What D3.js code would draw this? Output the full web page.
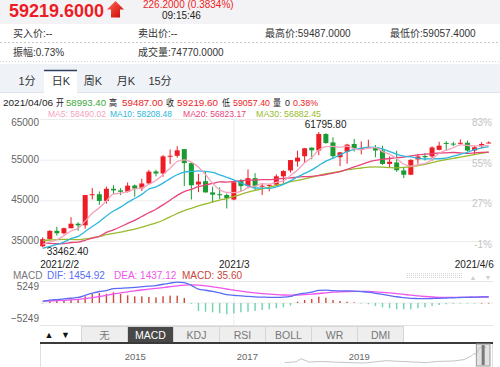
<!DOCTYPE html>
<html><head><meta charset="utf-8">
<script src="https://cdn.jsdelivr.net/npm/d3@7/dist/d3.min.js"></script>
<style>
body{margin:0;background:#fff;}
svg{display:block;font-family:"Liberation Sans",Arial,"Noto Sans CJK SC",sans-serif;}
</style></head><body>
<svg id="c" width="500" height="367"></svg>
<script>
// ---------------- DATA ----------------
const dates = "2/2 2/3 2/4 2/5 2/6 2/7 2/8 2/9 2/10 2/11 2/12 2/13 2/14 2/15 2/16 2/17 2/18 2/19 2/20 2/21 2/22 2/23 2/24 2/25 2/26 2/27 2/28 3/1 3/2 3/3 3/4 3/5 3/6 3/7 3/8 3/9 3/10 3/11 3/12 3/13 3/14 3/15 3/16 3/17 3/18 3/19 3/20 3/21 3/22 3/23 3/24 3/25 3/26 3/27 3/28 3/29 3/30 3/31 4/1 4/2 4/3 4/4 4/5 4/6".split(" ");
const open = [33700,35450,37500,36900,38150,39250,38850,46250,46500,44850,47850,47450,47100,48650,47950,49150,52100,51600,55800,55950,57600,54150,48900,49700,46950,46500,46300,45200,49800,48500,50450,48450,48600,48850,50900,52350,54550,55850,57950,57250,61300,59250,55600,56950,58850,57700,57900,57900,57250,53950,54300,52350,51300,55050,55900,55800,57400,59120,58950,58900,59150,57250,58300,58993.4];
const close = [35450,37500,36900,38150,39250,38850,46300,46500,44850,47850,47450,47100,48600,47900,49150,52050,51600,55800,55950,57300,54150,48700,49600,46950,46400,46300,45500,49450,48500,50450,48450,48600,48800,50900,52200,54900,55500,57800,57300,61300,59100,55850,56800,58700,57800,57900,58050,57250,53950,54500,52400,51300,54950,55800,55600,58000,58450,58870,58750,59150,57250,58050,58850,59219.6];
const high = [35900,37650,38500,38300,40850,39600,46300,48000,47200,48400,48700,48000,49400,48900,50300,52500,52500,56150,57500,58300,57600,54200,51500,52000,48400,48200,46700,49700,50200,52600,51700,49300,49100,51400,52400,54900,57200,57900,58000,61795.8,61500,60500,56900,58900,60100,59500,59900,58600,58400,55800,57200,53200,55100,56400,56600,58300,59400,59560,59400,60000,59700,58400,59300,59487];
const low = [33462.4,35300,36300,36600,38100,37500,38000,45200,43900,44200,46500,46300,46900,45900,47300,48900,50900,50800,53900,55500,48500,45200,47000,46900,44400,45300,43000,45000,47100,48100,47500,46300,47200,48500,49300,51800,53300,54300,55100,56100,58900,55200,53400,54000,57000,56300,57800,55600,53700,53100,52000,50450,51200,54000,54800,54700,57300,57230,58300,58600,57000,56400,57800,58993.4];
const ma5 = [34137,34774,35300,36307,37450,38130,39890,41810,43150,44870,46590,46750,47170,47780,48040,48960,49860,51300,52910,54540,54960,54380,53140,51340,49160,47590,46950,46920,47230,48040,48470,49090,48960,49440,49790,51080,52460,54260,55540,57360,58200,58270,58070,58350,57650,57410,57850,57940,56990,56330,55230,53880,53420,53790,54010,55130,56560,57340,57930,58640,58490,58410,58410,58490.02];
const ma10 = [33157,33680,34145,34714,35596,36134,37332,38555,39729,41160,42360,43320,44490,45465,46455,47775,48305,49235,50345,51290,51960,52120,52220,52125,51850,51275,50665,50030,49285,48600,48030,48020,47940,48335,48915,49775,50775,51610,52490,53575,54640,55365,56165,56945,57505,57805,58060,58005,57670,56990,56320,55865,55680,55390,55170,55180,55220,55380,55860,56325,56810,57485,57875,58208.48];
const ma20 = [34433,34433,34319,34375,34630,34700,35175,35705,36164,37116,37759,38500,39318,40090,41026,41955,42819,43895,45037,46225,47160,47720,48355,48795,49153,49525,49485,49633,49815,49945,49995,50070,50080,50230,50383,50525,50720,50820,50888,51088,51335,51693,52053,52640,53210,53790,54418,54808,55080,55283,55480,55615,55923,56168,56338,56493,56640,56693,56765,56658,56565,56675,56778,56823.17];
const ma30 = [35059,35243,35340,35384,35380,35315,35517,35788,36097,36561,36899,37163,37556,37947,38392,38906,39430,40108,40945,41757,42493,43041,43619,44102,44634,45062,45435,45941,46454,47018,47451,47821,48218,48643,49075,49610,49917,50294,50709,51157,51545,51837,52110,52470,52758,52953,53168,53216,53149,53056,52998,53085,53263,53558,53865,54255,54687,55001,55343,55633,55926,56241,56576,56882.45];
const dif = [382,680,823,966,1133,1336,1825,2338,2744,2947,3424,3507,3591,3710,3901,4008,4164,4474,4760,4975,4867,4223,3293,3042,2756,2398,1992,1825,1706,1563,1455,1408,1348,1348,1396,1587,2064,2338,2577,3018,3066,2935,2911,2899,2851,2720,2589,2314,2040,1778,1491,1300,1109,1062,1038,1074,1121,1181,1241,1312,1355,1396,1444,1454.92];
const dea = [429,477,549,644,740,859,1026,1265,1551,1837,2147,2434,2672,2911,3102,3293,3484,3674,3889,4104,4271,4319,4247,4080,3865,3627,3340,3054,2815,2601,2410,2243,2100,1980,1909,1885,1909,1980,2100,2267,2434,2577,2672,2744,2768,2768,2744,2672,2553,2410,2243,2052,1861,1694,1551,1432,1360,1336,1336,1360,1384,1408,1432,1437.12];
const macd = [-100,400,550,650,800,950,1600,2150,2400,2200,2550,2150,1850,1600,1600,1450,1350,1600,1750,1750,1200,-200,-1910,-2080,-2220,-2460,-2700,-2460,-2220,-2080,-1910,-1670,-1500,-1260,-1030,-600,310,720,950,1500,1260,720,480,310,160,-100,-300,-720,-1030,-1260,-1500,-1500,-1500,-1260,-1030,-720,-480,-300,-200,-100,-60,-30,20,35.6];
const priceTicks = [65000,55000,45000,35000];
const pctLabels = ["83%","55%","27%","-1%"];
const macdTicks = [5249,-5249];
const dateTicks = ["2/2","3/1","4/6"];
const dateTickLabels = ["2021/2/2","2021/3","2021/4/6"];
const navDates = ["2017-09-01","2017-11-15","2017-12-17","2018-01-20","2018-02-06","2018-05-01","2018-08-01","2018-11-20","2019-02-01","2019-06-26","2019-09-01","2019-12-15","2020-03-13","2020-06-01","2020-09-01","2020-11-15","2020-12-31","2021-01-15","2021-02-02","2021-02-21","2021-03-13","2021-04-06"];
const navValues = [4700,8000,19000,11500,7000,9000,6500,4500,3500,12000,10000,7200,5000,9500,10500,16000,29000,37000,35500,57000,61000,59200];
const navYears = ["2015","2017","2019"];
const tabsTop = ["1分","日K","周K","月K","15分"];
const tabsBottom = ["无","MACD","KDJ","RSI","BOLL","WR","DMI"];

// ---------------- COLORS ----------------
const UP = "#ee1c25", DOWN = "#1a9b32";
const C5 = "#f5a3bd", C10 = "#2cb7dc", C20 = "#e8457c", C30 = "#98bb2b";

const svg = d3.select("#c");

// ---------------- HEADER ----------------
svg.append("rect").attr("x",0).attr("y",0).attr("width",500).attr("height",24).attr("fill","#f3f3f5");
svg.append("text").attr("x",9).attr("y",16.5).attr("font-size",18).attr("font-weight","bold").attr("fill",UP).text("59219.6000");
const defs = svg.append("defs");
const g1 = defs.append("linearGradient").attr("id","ag").attr("x1",0).attr("y1",0).attr("x2",1).attr("y2",1);
g1.append("stop").attr("offset","0%").attr("stop-color","#ff6a5a");
g1.append("stop").attr("offset","100%").attr("stop-color","#cc0000");
svg.append("path").attr("d","M107,9.5 L115.5,1 L124,9.5 L120,9.5 L120,17.5 L111,17.5 L111,9.5 Z").attr("fill","url(#ag)");
svg.append("text").attr("x",143).attr("y",8).attr("font-size",10).attr("fill",UP).text("226.2000 (0.3834%)");
svg.append("text").attr("x",162).attr("y",19).attr("font-size",10).attr("fill","#222").text("09:15:46");

const rows = [["买入价:--",13,37],["卖出价:--",138,37],["最高价:59487.0000",265,37],["最低价:59057.4000",390,37],["振幅:0.73%",13,56],["成交量:74770.0000",138,56]];
svg.selectAll("text.row").data(rows).join("text").attr("class","row")
  .attr("x",d=>d[1]).attr("y",d=>d[2]).attr("font-size",10).attr("fill","#333").text(d=>d[0]);
svg.append("line").attr("x1",0).attr("x2",500).attr("y1",42.5).attr("y2",42.5).attr("stroke","#c8c8c8").attr("stroke-dasharray","2,2");
svg.append("line").attr("x1",0).attr("x2",500).attr("y1",61.5).attr("y2",61.5).attr("stroke","#d0d0d0").attr("stroke-dasharray","1,2");

// tab band
svg.append("rect").attr("x",0).attr("y",64).attr("width",500).attr("height",29).attr("fill","#eff3f8");
svg.append("line").attr("x1",0).attr("x2",500).attr("y1",92.5).attr("y2",92.5).attr("stroke","#dfe5ee");
svg.append("rect").attr("x",44).attr("y",70).attr("width",33).attr("height",23).attr("fill","#fff");
svg.append("line").attr("x1",44).attr("x2",77).attr("y1",70.5).attr("y2",70.5).attr("stroke","#2d3e5e").attr("stroke-width",1.5);
const tabX = [27,61,93,126,160];
svg.selectAll("text.tab").data(tabsTop).join("text").attr("class","tab")
  .attr("x",(d,i)=>tabX[i]).attr("y",85).attr("text-anchor","middle").attr("font-size",11).attr("fill","#333").text(d=>d);

// info line (text, x, width, colour)
const info = [["2021/04/06",3,50,"#222"],["开",56,8,"#222"],["58993.40",66,40,"#3aa83a"],["高",109,8,"#222"],["59487.00",122,41,UP],["收",166,8,"#222"],["59219.60",177,41,UP],["低",222,8,"#222"],["59057.40",233,37,UP],["量",273,8,"#222"],["0",285,5,"#222"],["0.38%",293,25,UP]];
svg.selectAll("text.info").data(info).join("text").attr("class","info")
  .attr("x",d=>d[1]).attr("y",105.5).attr("font-size",9.5).attr("fill",d=>d[3])
  .attr("textLength",d=>d[2]).attr("lengthAdjust","spacingAndGlyphs").text(d=>d[0]);
const leg = [["MA5: 58490.02",48,58,C5],["MA10: 58208.48",110,62,C10],["MA20: 56823.17",183,63,C20],["MA30: 56882.45",256,65,C30]];
svg.selectAll("text.leg").data(leg).join("text").attr("class","leg")
  .attr("x",d=>d[1]).attr("y",116.5).attr("font-size",9.5).attr("fill",d=>d[3])
  .attr("textLength",d=>d[2]).attr("lengthAdjust","spacingAndGlyphs").text(d=>d[0]);

// ---------------- SCALES ----------------
const x = d3.scalePoint().domain(dates).range([42.7,488.7]);
const y = d3.scaleLinear().domain([35000,65000]).range([241,119]);
const ym = d3.scaleLinear().domain([-5249,5249]).range([325,281]);

// grid + left axis
const ax = svg.append("g").attr("transform","translate(40,0)")
  .call(d3.axisLeft(y).tickValues(priceTicks).tickSize(-453).tickPadding(1).tickFormat(d3.format("d")));
ax.select(".domain").remove();
ax.selectAll(".tick line").attr("stroke","#ececec");
ax.selectAll(".tick text").attr("fill","#666").attr("font-size",10).attr("font-family","Liberation Sans, Arial, sans-serif")
  .attr("dy",(d,i)=> i===0 ? "0.65em" : "0.25em");
// right pct axis
const ar = svg.append("g").attr("transform","translate(493,0)")
  .call(d3.axisLeft(y).tickValues(priceTicks).tickSize(0).tickPadding(1).tickFormat((d,i)=>pctLabels[i]));
ar.select(".domain").remove();
ar.selectAll(".tick text").attr("fill","#c4c4c4").attr("font-size",10).attr("font-family","Liberation Sans, Arial, sans-serif").attr("dy","0.65em");

// vertical grid at month start
const vx = x("3/1");
svg.append("line").attr("x1",vx).attr("x2",vx).attr("y1",119).attr("y2",258).attr("stroke","#ececec");
svg.append("line").attr("x1",vx).attr("x2",vx).attr("y1",281).attr("y2",325).attr("stroke","#ececec");

// candles
const cg = svg.append("g");
dates.forEach((d,i)=>{
  const col = close[i] >= open[i] ? UP : DOWN;
  const cx = x(d);
  cg.append("line").attr("x1",cx).attr("x2",cx).attr("y1",y(high[i])).attr("y2",y(low[i])).attr("stroke",col).attr("stroke-width",1);
  const top = y(Math.max(open[i],close[i])), bot = y(Math.min(open[i],close[i]));
  cg.append("rect").attr("x",cx-2.5).attr("width",5).attr("y",top).attr("height",Math.max(1,bot-top)).attr("fill",col);
});

// MA lines
const lineFor = arr => d3.line().x((d,i)=>x(dates[i])).y(d=>y(d)).curve(d3.curveMonotoneX)(arr);
[[ma30,C30],[ma20,C20],[ma10,C10],[ma5,C5]].forEach(([arr,c])=>{
  svg.append("path").attr("d",lineFor(arr)).attr("fill","none").attr("stroke",c).attr("stroke-width",1.3);
});

// high / low annotations
const iH = high.indexOf(d3.max(high)), iL = low.indexOf(d3.min(low));
svg.append("text").attr("x",x(dates[iH])-14).attr("y",y(high[iH])-4).attr("font-size",10).attr("fill","#222").text(d3.format(".2f")(high[iH]));
svg.append("text").attr("x",x(dates[iL])+4).attr("y",y(low[iL])+8).attr("font-size",10).attr("fill","#222").text(d3.format(".2f")(low[iL]));

// date axis labels
const ab = svg.append("g").attr("transform","translate(0,258)")
  .call(d3.axisBottom(x).tickValues(dateTicks).tickSize(0).tickPadding(3).tickFormat((d,i)=>dateTickLabels[i]));
ab.select(".domain").remove();
ab.selectAll(".tick text").attr("fill","#222").attr("font-size",10).attr("font-family","Liberation Sans, Arial, sans-serif")
  .attr("text-anchor",(d,i)=> i===0?"start": i===2?"end":"middle")
  .attr("dx",(d,i)=> i===0? "-3" : i===2 ? "4.5" : "0");

// scroll dots and arrows
const dots = svg.append("g").attr("fill","#d4d4d4");
for(let r=0;r<3;r++) for(let c=0;c<28;c++) dots.append("rect").attr("x",407+c*2).attr("y",273+r*2).attr("width",1).attr("height",1);
svg.append("text").attr("x",473).attr("y",280).attr("font-size",7).attr("fill","#cfcfcf").attr("text-anchor","middle").text("▲");
svg.append("text").attr("x",488).attr("y",280).attr("font-size",7).attr("fill","#cfcfcf").attr("text-anchor","middle").text("▼");

// ---------------- MACD ----------------
const mlab = [["MACD",13,"#777"],["DIF: 1454.92",47,"#5a6cf5"],["DEA: 1437.12",114,"#ee55ee"],["MACD: 35.60",182,"#c8443a"]];
svg.selectAll("text.ml").data(mlab).join("text").attr("class","ml")
  .attr("x",d=>d[1]).attr("y",278.5).attr("font-size",10).attr("fill",d=>d[2]).text(d=>d[0]);
svg.append("line").attr("x1",40).attr("x2",493).attr("y1",281.5).attr("y2",281.5).attr("stroke","#e8e8e8");
svg.append("line").attr("x1",40).attr("x2",493).attr("y1",ym(0)).attr("y2",ym(0)).attr("stroke","#ececec");
const am = svg.append("g").attr("transform","translate(40,0)")
  .call(d3.axisLeft(ym).tickValues(macdTicks).tickSize(0).tickPadding(1).tickFormat(d3.format("d")));
am.select(".domain").remove();
am.selectAll(".tick text").attr("fill","#666").attr("font-size",10).attr("font-family","Liberation Sans, Arial, sans-serif")
  .attr("dy",(d,i)=> i===0 ? "0.8em" : "-0.35em");
svg.append("g").selectAll("rect").data(macd).join("rect")
  .attr("x",(d,i)=>x(dates[i])-0.7).attr("width",1.4)
  .attr("y",d=>Math.min(ym(d),ym(0))).attr("height",d=>Math.max(0.6,Math.abs(ym(d)-ym(0))))
  .attr("fill",d=> d>=0 ? "#cc4a3c" : "#6fd3ad");
const ml = arr => d3.line().x((d,i)=>x(dates[i])).y(d=>ym(d)).curve(d3.curveMonotoneX)(arr);
svg.append("path").attr("d",ml(dea)).attr("fill","none").attr("stroke","#ee55ee").attr("stroke-width",1.3);
svg.append("path").attr("d",ml(dif)).attr("fill","none").attr("stroke","#5a6cf5").attr("stroke-width",1.3);

// ---------------- BOTTOM TABS ----------------
svg.append("line").attr("x1",40).attr("x2",493).attr("y1",325.5).attr("y2",325.5).attr("stroke","#e4e4e4");
[["▲",41],["▼",57.5]].forEach(([t,bx])=>{
  svg.append("rect").attr("x",bx).attr("y",326).attr("width",16).attr("height",16).attr("fill","#fff");
  svg.append("text").attr("x",bx+8).attr("y",338).attr("text-anchor","middle").attr("font-size",9).attr("fill","#111").text(t);
});
const tabW = 46;
tabsBottom.forEach((t,i)=>{
  const tx = 81 + i*tabW;
  const sel = t==="MACD";
  svg.append("rect").attr("x",tx+0.5).attr("y",326.5).attr("width",tabW).attr("height",16).attr("fill",sel?"#484848":"#eeeeee").attr("stroke","#d6d6d6");
  svg.append("text").attr("x",tx+tabW/2+0.5).attr("y",338.5).attr("text-anchor","middle").attr("font-size",10.5).attr("fill",sel?"#fff":"#777").text(t);
});

// ---------------- NAVIGATOR ----------------
const pt = d3.timeParse("%Y-%m-%d");
const xn = d3.scaleTime().domain([pt("2013-04-20"),pt("2021-04-06")]).range([40,486]);
const yn = d3.scaleLinear().domain([0,65000]).range([364,346]);
svg.append("rect").attr("x",40.5).attr("y",343).attr("width",452).attr("height",25).attr("fill","#fff").attr("stroke","#e0e0e0");
svg.append("path").attr("d",d3.line().x((d,i)=>xn(pt(navDates[i]))).y(d=>yn(d))(navValues)).attr("fill","none").attr("stroke","#c4c4c4").attr("stroke-width",1);
svg.append("line").attr("x1",40).attr("x2",493).attr("y1",343).attr("y2",343).attr("stroke","#3a3a3a").attr("stroke-width",2);
svg.selectAll("text.ny").data(navYears).join("text").attr("class","ny")
  .attr("x",d=>xn(pt(d+"-01-01"))).attr("y",360).attr("text-anchor","middle").attr("font-size",9.5).attr("fill","#666").text(d=>d);
const hx0 = xn(pt("2021-02-02")), hx1 = xn(pt("2021-04-06"))+4;
svg.append("rect").attr("x",hx0).attr("y",344).attr("width",hx1-hx0).attr("height",22).attr("fill","rgba(190,190,190,0.45)").attr("stroke","#9a9a9a");
svg.append("rect").attr("x",(hx0+hx1)/2-1.5).attr("y",345).attr("width",3).attr("height",20).attr("fill","#7a7a7a");
</script></body></html>
